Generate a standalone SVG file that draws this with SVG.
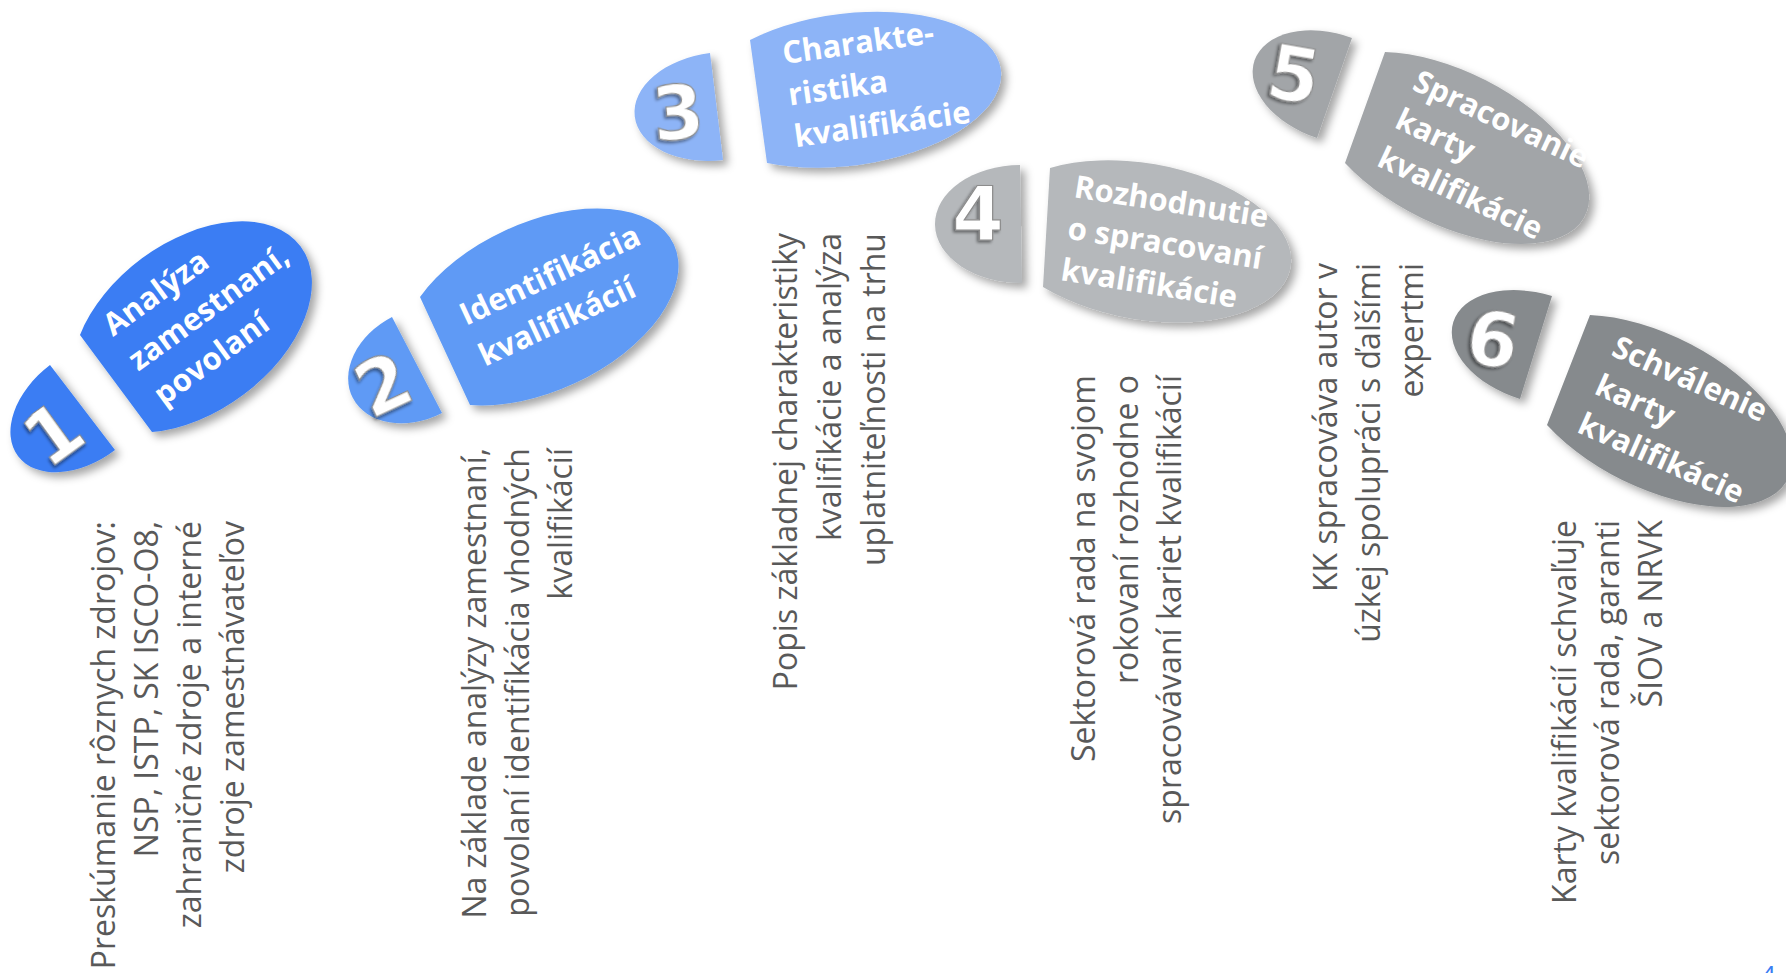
<svg xmlns="http://www.w3.org/2000/svg" width="1786" height="973" viewBox="0 0 1786 973">
<defs>
<filter id="sh" x="-20%" y="-20%" width="150%" height="150%">
<feGaussianBlur in="SourceAlpha" stdDeviation="4"/>
<feOffset dx="5" dy="5" result="b"/>
<feFlood flood-color="#000" flood-opacity="0.35"/>
<feComposite in2="b" operator="in"/>
<feMerge><feMergeNode/><feMergeNode in="SourceGraphic"/></feMerge>
</filter>
<filter id="emb" x="-30%" y="-30%" width="160%" height="160%">
<feGaussianBlur in="SourceAlpha" stdDeviation="1.5"/>
<feOffset dx="-2" dy="2" result="b"/>
<feFlood flood-color="#000" flood-opacity="0.45"/>
<feComposite in2="b" operator="in"/>
<feMerge><feMergeNode/><feMergeNode in="SourceGraphic"/></feMerge>
</filter>
</defs>
<style>
.desc{font-family:"Open Sans","Liberation Sans",sans-serif;font-size:32px;fill:#595959;text-anchor:end}
.lbl{font-family:"Open Sans","Liberation Sans",sans-serif;font-size:31px;font-weight:700;fill:#ffffff}
.num{font-family:"DejaVu Sans","Liberation Sans",sans-serif;font-size:74px;font-weight:700;fill:#ffffff;text-anchor:middle;stroke:#8c8c8c;stroke-width:1.2}
.shape{filter:url(#sh)}
.c1{fill:#3a7df3}.c2{fill:#5e9af5}.c3{fill:#8db4f7}.c4{fill:#b5b8bb}.c5{fill:#a2a5a8}.c6{fill:#868a8d}
</style>
<rect width="1786" height="973" fill="#ffffff"/>

<g id="step1">
<path class="shape c1" d="M115,450 A80 53 -37 1 1 50,365 Z"/>
<path class="shape c1" d="M80,335 A135 85 -36.6 1 1 152,432 Z"/>
<g transform="translate(53,433) rotate(-36)" filter="url(#emb)"><text class="num" x="0" y="27">1</text></g>
<text class="lbl" transform="translate(113,337) rotate(-36)"><tspan x="0" dy="0">Analýza</tspan><tspan x="0" dy="43">zamestnaní,</tspan><tspan x="0" dy="43">povolaní</tspan></text>
</g>
<g id="desc1">
<text class="desc" transform="translate(115,521) rotate(-90)"><tspan x="0" dy="0">Preskúmanie rôznych zdrojov:</tspan><tspan x="0" dy="43">NSP, ISTP, SK ISCO-O8,</tspan><tspan x="0" dy="43">zahraničné zdroje a interné</tspan><tspan x="0" dy="43">zdroje zamestnávateľov</tspan></text>
</g>

<g id="step2">
<path class="shape c2" d="M442,413 A72 54 -27 1 1 392,317 Z"/>
<path class="shape c2" d="M420,297 A148 84 -25 1 1 470,405 Z"/>
<g transform="translate(383,384) rotate(-25)" filter="url(#emb)"><text class="num" x="0" y="27">2</text></g>
<text class="lbl" transform="translate(466,326) rotate(-25)"><tspan x="0" dy="0">Identifikácia</tspan><tspan x="0" dy="45">kvalifikácií</tspan></text>
</g>
<g id="desc2">
<text class="desc" transform="translate(486,448) rotate(-90)"><tspan x="0" dy="0">Na základe analýzy zamestnaní,</tspan><tspan x="0" dy="43">povolaní identifikácia vhodných</tspan><tspan x="0" dy="43">kvalifikácií</tspan></text>
</g>

<g id="step3">
<path class="shape c3" d="M723,160 A81 53 -7 1 1 710,53 Z"/>
<path class="shape c3" d="M750,40 A155 76 -7.5 1 1 767,163 Z"/>
<g transform="translate(678,112) rotate(-5)" filter="url(#emb)"><text class="num" x="0" y="27">3</text></g>
<text class="lbl" transform="translate(784,64) rotate(-8)"><tspan x="0" dy="0">Charakte-</tspan><tspan x="0" dy="42">ristika</tspan><tspan x="0" dy="42">kvalifikácie</tspan></text>
</g>
<g id="desc3">
<text class="desc" transform="translate(797,233) rotate(-90)"><tspan x="0" dy="0">Popis základnej charakteristiky</tspan><tspan x="0" dy="44">kvalifikácie a analýza</tspan><tspan x="0" dy="44">uplatniteľnosti na trhu</tspan></text>
</g>

<g id="step4">
<path class="shape c4" d="M1022,283 A86 59 0 1 1 1020,165 Z"/>
<path class="shape c4" d="M1050,168 A150 78 10 1 1 1043,287 Z"/>
<g transform="translate(978,213) rotate(0)" filter="url(#emb)"><text class="num" x="0" y="27">4</text></g>
<text class="lbl" transform="translate(1073,197) rotate(9)"><tspan x="0" dy="0">Rozhodnutie</tspan><tspan x="0" dy="42">o spracovaní</tspan><tspan x="0" dy="42">kvalifikácie</tspan></text>
</g>
<g id="desc4">
<text class="desc" transform="translate(1095,375) rotate(-90)"><tspan x="0" dy="0">Sektorová rada na svojom</tspan><tspan x="0" dy="43">rokovaní rozhodne o</tspan><tspan x="0" dy="43">spracovávaní kariet kvalifikácií</tspan></text>
</g>

<g id="step5">
<path class="shape c5" d="M1317,138 A82 53 19 1 1 1352,38 Z"/>
<path class="shape c5" d="M1385,52 A150 76 27 1 1 1345,163 Z"/>
<g transform="translate(1294,74) rotate(10)" filter="url(#emb)"><text class="num" x="0" y="27">5</text></g>
<text class="lbl" transform="translate(1411,89) rotate(25)"><tspan x="0" dy="0">Spracovanie</tspan><tspan x="0" dy="42">karty</tspan><tspan x="0" dy="42">kvalifikácie</tspan></text>
</g>
<g id="desc5">
<text class="desc" transform="translate(1337,263) rotate(-90)"><tspan x="0" dy="0">KK spracováva autor v</tspan><tspan x="0" dy="43">úzkej spolupráci s ďalšími</tspan><tspan x="0" dy="43">expertmi</tspan></text>
</g>

<g id="step6">
<path class="shape c6" d="M1520,399 A85 53 17 1 1 1552,296 Z"/>
<path class="shape c6" d="M1590,315 A150 76 27 1 1 1547,425 Z"/>
<g transform="translate(1493,339) rotate(10)" filter="url(#emb)"><text class="num" x="0" y="27">6</text></g>
<text class="lbl" transform="translate(1610,355) rotate(24)"><tspan x="0" dy="0">Schválenie</tspan><tspan x="0" dy="42">karty</tspan><tspan x="0" dy="42">kvalifikácie</tspan></text>
</g>
<g id="desc6">
<text class="desc" transform="translate(1576,520) rotate(-90)"><tspan x="0" dy="0">Karty kvalifikácií schvaľuje</tspan><tspan x="0" dy="43">sektorová rada, garanti</tspan><tspan x="0" dy="43">ŠIOV a NRVK</tspan></text>
</g>

<g id="page-number">
<text x="1761" y="984" font-family="Open Sans, Liberation Sans, sans-serif" font-size="26" fill="#3a7df3">4</text>
</g>
</svg>
